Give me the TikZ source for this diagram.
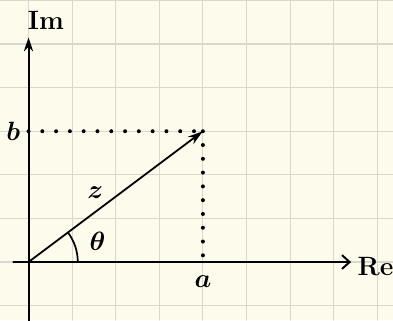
\documentclass[tikz,border=0pt]{standalone}
\usepackage{amsmath}
\usepackage{tikz}
\usetikzlibrary{arrows.meta}
\definecolor{paper}{RGB}{253,251,236}
\definecolor{gridline}{RGB}{218,216,204}

\begin{document}
\begin{tikzpicture}[line cap=round]
  \tikzstyle{axis}=[line width=1.3pt]
  \tikzstyle{dotline}=[line width=2.6pt,dash pattern=on 0pt off 9pt]
  \tikzstyle{lbl}=[font=\LARGE\bfseries\boldmath,inner sep=1pt]
  % paper and grid
  \fill[paper] (-0.654,-1.33) rectangle (8.36,6.01);
  \useasboundingbox (-0.654,-1.33) rectangle (8.36,6.01);
  \draw[gridline,line width=0.7pt] (-0.654,-1.33) grid (8.36,6.01);
  % points
  \coordinate (O)  at (0,0);
  \coordinate (P)  at (4,3);
  \coordinate (Pa) at (4,0);
  \coordinate (Pb) at (0,3);
  \coordinate (X0) at (-0.35,0);
  \coordinate (X1) at (7.4,0);
  \coordinate (Y0) at (0,-1.4);
  \coordinate (Y1) at (0,5.15);
  % axes
  \draw[axis,-{Straight Barb[length=5pt,width=9pt]}] (X0) -- (X1);
  \draw[axis,-{Stealth[length=9pt,width=6pt]}] (Y0) -- (Y1);
  \node[lbl] (Re) at (7.96,-0.1)  {Re};
  \node[lbl] (Im) at (0.4,5.55)   {Im};
  % vector z
  \draw[line width=1.2pt,-{Stealth[length=10pt,width=6pt]}] (O) -- (P);
  \draw[dotline] (Pb) -- (P);
  \draw[dotline] (P) -- (Pa);
  \node[lbl] (lb) at (-0.35,3)   {$b$};
  \node[lbl] (la) at (4,-0.45)   {$a$};
  \node[lbl] (lz) at (1.53,1.6)  {$z$};
  % angle
  \draw[line width=1.1pt] (1.13,0) arc[start angle=0,end angle=36.87,radius=1.13];
  \node[lbl] (th) at (1.58,0.47) {$\theta$};
\end{tikzpicture}
\end{document}
